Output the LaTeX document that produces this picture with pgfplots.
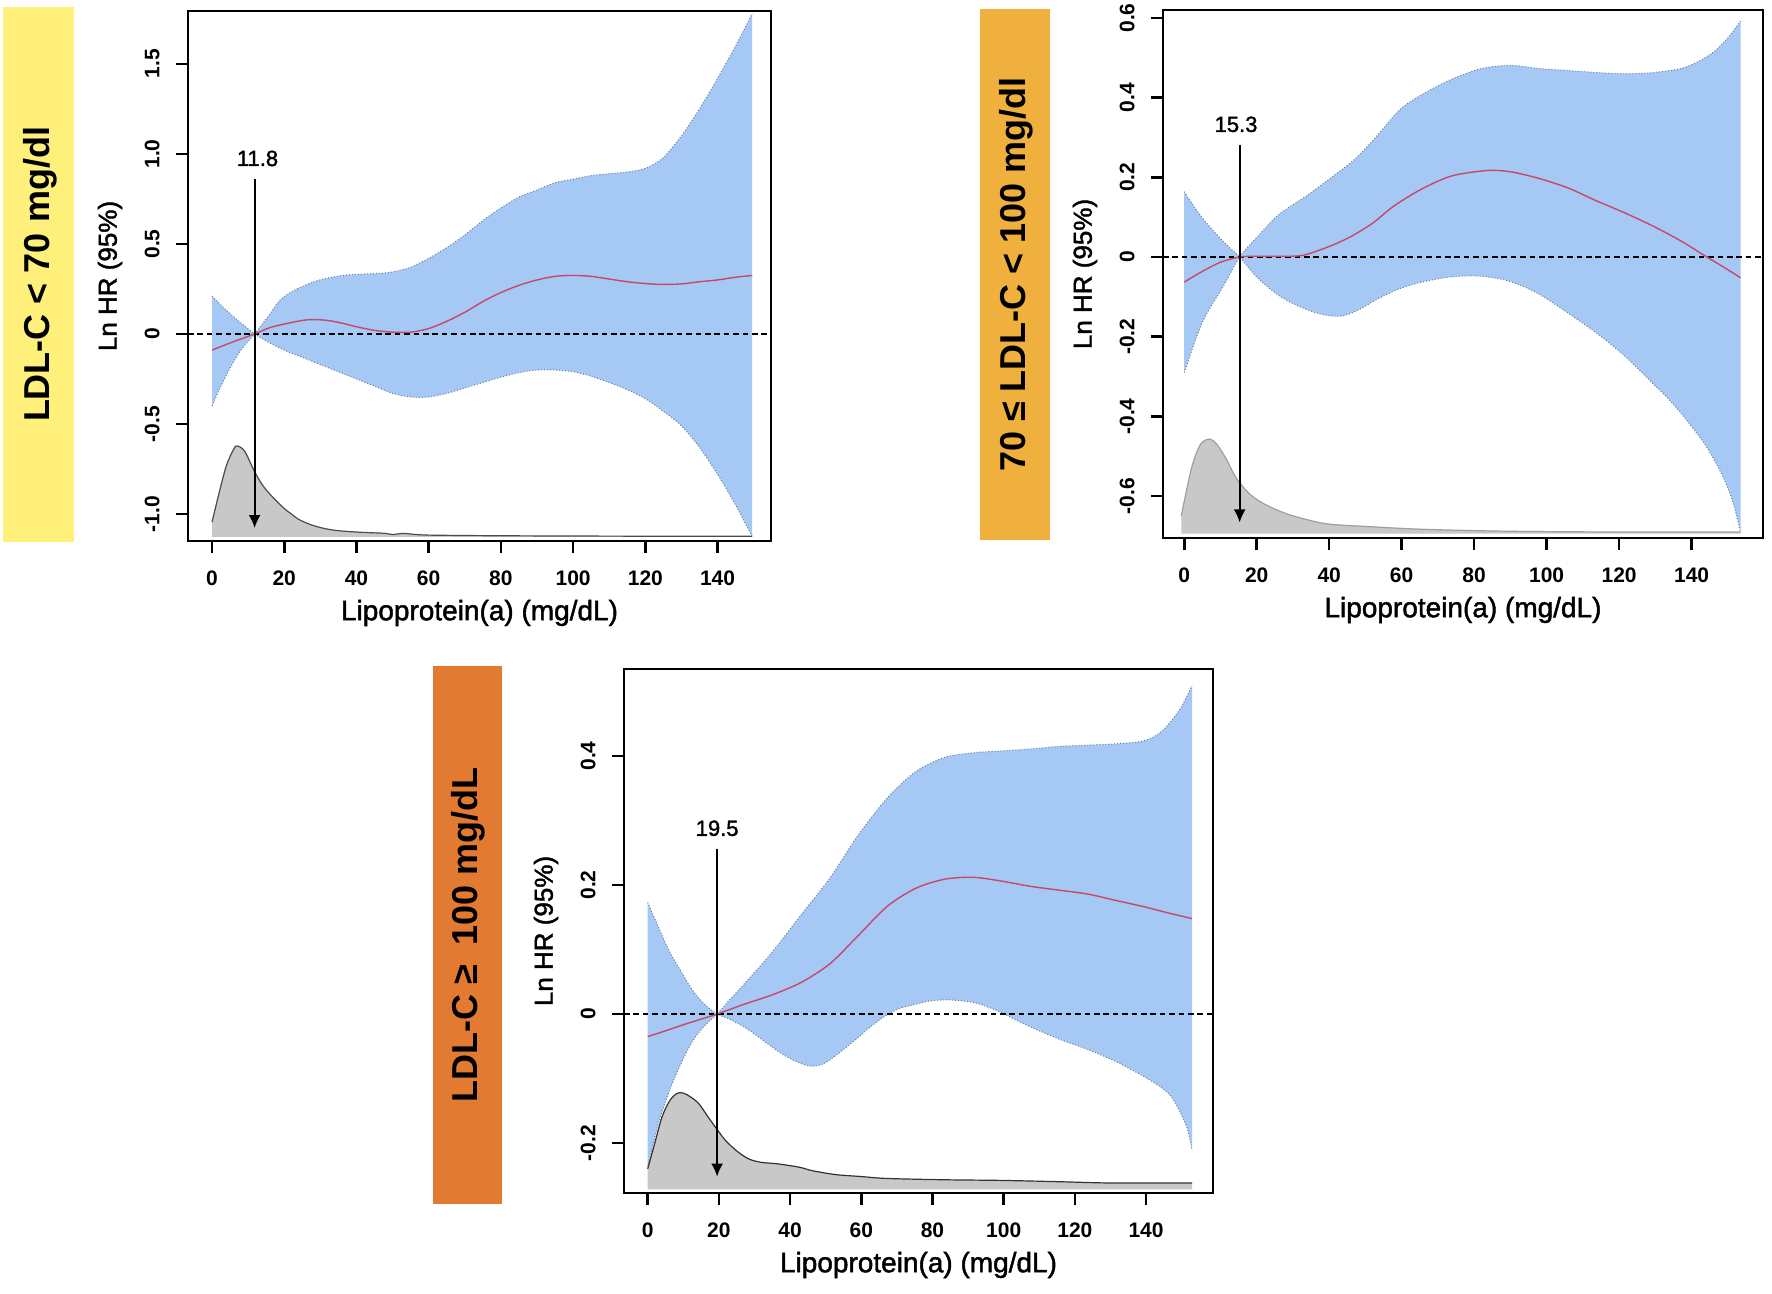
\documentclass[border=0pt]{standalone}
\usepackage{fontspec}
\setmainfont{Liberation Sans}
\newfontface\labface[FakeBold=1.6]{Liberation Sans}
\usepackage{pgfplots}
\usepackage{pgfplotstable}
\pgfplotsset{compat=1.18}
\usepgfplotslibrary{fillbetween}
\usetikzlibrary{arrows.meta}

\definecolor{bandblue}{RGB}{165,200,245}
\definecolor{bandedge}{RGB}{105,125,155}
\definecolor{redline}{RGB}{200,72,104}
\definecolor{dens}{RGB}{200,200,200}
\definecolor{boxyellow}{RGB}{254,240,122}
\definecolor{boxorange}{RGB}{240,176,62}
\definecolor{boxdark}{RGB}{226,122,50}

% ---------- Plot 1 data ----------
\pgfplotstableread{
x y
0 0.21
3 0.15
6 0.095
9 0.045
11.8 0
16 -0.05
20 -0.09
25 -0.13
30 -0.17
35 -0.21
40 -0.25
45 -0.29
50 -0.33
55 -0.35
60 -0.35
65 -0.33
70 -0.30
75 -0.27
80 -0.24
85 -0.215
90 -0.20
95 -0.20
100 -0.21
105 -0.235
110 -0.27
115 -0.31
120 -0.36
125 -0.43
130 -0.51
135 -0.63
140 -0.78
145 -0.95
149.6 -1.126
}\tAone
\pgfplotstableread{
x y
0 -0.40
2 -0.31
5 -0.19
8 -0.09
11.8 0
16 0.11
18.9 0.19
23 0.245
28.2 0.29
32 0.31
37.4 0.328
46.7 0.337
50 0.345
55 0.37
60 0.42
65 0.48
70 0.55
75 0.63
80 0.70
85 0.76
90 0.80
95 0.84
100 0.86
105 0.88
110 0.89
115 0.90
120 0.92
125 0.98
130 1.10
135 1.25
140 1.42
145 1.60
149.6 1.78
}\tBone
\pgfplotstableread{
x y
0 -1.045
2 -0.88
4 -0.73
6 -0.64
6.9 -0.622
9 -0.65
11.8 -0.765
14 -0.84
16.5 -0.90
19.9 -0.968
22 -1.0
24 -1.03
27.4 -1.06
31 -1.08
35 -1.093
41.5 -1.102
47.6 -1.107
50 -1.114
53 -1.108
57 -1.115
62 -1.118
80 -1.121
110 -1.123
149.6 -1.124
}\tDone
\pgfplotstableread{
x y
0 -0.09
5 -0.05
11.8 0
16 0.035
20 0.055
25 0.075
28 0.08
32 0.075
36 0.06
40 0.04
45 0.02
50 0.01
55 0.01
60 0.03
65 0.07
70 0.12
75 0.18
80 0.23
85 0.27
90 0.30
95 0.32
100 0.325
105 0.32
110 0.305
115 0.29
120 0.28
125 0.275
130 0.278
135 0.29
140 0.30
145 0.315
149.6 0.325
}\tEone

% ---------- Plot 2 data ----------
\pgfplotstableread{
x y
0 0.164
4 0.11
8 0.066
12 0.028
15.3 0
20 -0.05
26 -0.096
32.5 -0.127
38.5 -0.145
43.5 -0.148
48 -0.133
53 -0.107
59 -0.081
65.5 -0.063
73.5 -0.05
81.5 -0.048
89.5 -0.06
97.5 -0.091
105.5 -0.138
113.5 -0.189
121.5 -0.248
129.5 -0.319
134 -0.36
138.6 -0.409
144.1 -0.476
148.7 -0.552
151.5 -0.618
153.5 -0.69
}\tAtwo
\pgfplotstableread{
x y
0 -0.29
5 -0.164
11 -0.07
15.3 0
20 0.049
26 0.106
33.5 0.152
40.5 0.199
47 0.245
53 0.302
59.5 0.37
66 0.41
74 0.447
82 0.473
90 0.481
98 0.473
106 0.468
114 0.463
121.5 0.46
129.5 0.463
137 0.473
141.5 0.489
146 0.514
150 0.55
153.5 0.592
}\tBtwo
\pgfplotstableread{
x y
-0.8 -0.65
2 -0.53
4.5 -0.47
7 -0.457
9 -0.47
11.5 -0.505
14.5 -0.557
18.5 -0.598
23 -0.624
29.5 -0.648
39 -0.669
50 -0.676
65.5 -0.683
89 -0.688
120 -0.69
153.5 -0.69
}\tDtwo
\pgfplotstableread{
x y
0 -0.063
5 -0.036
10 -0.013
15.3 0
20 0.002
26 0.002
32.5 0.004
39 0.023
45.5 0.049
52 0.085
58 0.129
66 0.173
74 0.204
83.5 0.217
90 0.214
98 0.197
106 0.173
113.5 0.142
121.5 0.111
129.5 0.077
137.5 0.038
143.5 0.004
149.5 -0.029
153.5 -0.052
}\tEtwo

% ---------- Plot 3 data ----------
\pgfplotstableread{
x y
0 0.173
3 0.135
6.1 0.097
9.5 0.065
12.6 0.037
16 0.015
19.5 0
23 -0.008
27 -0.02
31 -0.035
35.1 -0.052
39 -0.066
43.1 -0.077
46.3 -0.081
49 -0.078
51.2 -0.071
55 -0.055
59.2 -0.036
63 -0.018
67.3 -0.001
71 0.009
75.3 0.015
79 0.02
83.4 0.022
87 0.021
91.4 0.018
95 0.012
99.5 0.002
103 -0.008
107.5 -0.02
115.6 -0.039
123.6 -0.055
131.6 -0.074
139.7 -0.098
144.5 -0.115
147.7 -0.133
151.4 -0.175
152.9 -0.211
}\tAthree
\pgfplotstableread{
x y
0 -0.236
3 -0.17
6.1 -0.119
9.5 -0.075
12.6 -0.042
16 -0.018
19.5 0
23 0.022
27 0.046
35.1 0.097
43.1 0.154
51.2 0.211
59.2 0.278
67.3 0.335
75.3 0.376
83.4 0.398
91.4 0.405
99.5 0.408
107.5 0.411
115.6 0.415
123.6 0.417
131.6 0.419
139.7 0.424
144.5 0.439
149.3 0.471
152.9 0.509
}\tBthree
\pgfplotstableread{
x y
0 -0.240
2 -0.20
4 -0.16
6.1 -0.135
8 -0.124
9.3 -0.122
11 -0.125
14.2 -0.138
17 -0.16
19.5 -0.179
22 -0.197
25.4 -0.214
28.5 -0.225
31.9 -0.23
36 -0.232
39.9 -0.235
43 -0.238
46.3 -0.243
52.8 -0.249
60 -0.252
67.3 -0.255
83.4 -0.257
99.5 -0.258
115.6 -0.26
130 -0.262
152.9 -0.262
}\tDthree
\pgfplotstableread{
x y
0 -0.035
5 -0.026
10.9 -0.015
19.5 0
27 0.015
35.1 0.03
43.1 0.049
51.2 0.078
59.2 0.122
67.3 0.167
75.3 0.195
83.4 0.209
91.4 0.212
99.5 0.206
107.5 0.198
115.6 0.192
123.6 0.186
131.6 0.176
139.7 0.166
146 0.157
152.9 0.148
}\tEthree

\tikzset{ann/.style={font=\labface\fontsize{11}{13}\selectfont},
  tk/.style={black, line width=1.3pt}}
\pgfplotsset{
  hrstyle/.style={
    scale only axis, clip=false,
    axis line style={line width=1.1pt, black},
    xtick style={black, line width=1.3pt},
    ytick style={black, line width=1.3pt},
    tick align=outside, major tick length=6pt,
    xtick pos=bottom, ytick pos=left,
    xtick={0,20,...,140},
    ticklabel style={font=\bfseries\fontsize{10.5}{12}\selectfont, inner sep=0pt},
    /pgf/number format/assume math mode=true,
    xticklabel style={anchor=north},
    xticklabel shift=8.5pt,
    yticklabel style={rotate=90, anchor=south},
    yticklabel shift=8pt,
    xlabel={Lipoprotein(a) (mg/dL)},
    ylabel={Ln HR (95\%)},
    every axis x label/.style={at={(axis description cs:0.5,0)}, yshift=-36pt, anchor=center, font=\labface\fontsize{14}{16}\selectfont},
    every axis y label/.style={at={(axis description cs:0,0.5)}, xshift=-39pt, rotate=90, anchor=center, font=\labface\fontsize{13}{15}\selectfont},
  },
  hidden/.style={draw=none, smooth, forget plot},
  edge/.style={densely dotted, line width=0.5pt, color=bandedge, smooth, forget plot},
  est/.style={redline, line width=0.7pt, smooth, forget plot},
  zero/.style={black, line width=1.3pt, dash pattern=on 2.8pt off 1.9pt, forget plot},
  arr/.style={black, line width=0.9pt, -{Latex[length=6.5pt,width=6pt]}, forget plot},
}

\begin{document}
\begin{tikzpicture}
\path (0,0) rectangle (886pt,647pt);

% group label boxes
\fill[boxyellow] (1.5pt,376pt) rectangle (37pt,643.5pt);
\node[rotate=90, font=\bfseries\fontsize{18}{20}\selectfont] at (20.3pt,509.75pt) {LDL-C < 70 mg/dl};
\fill[boxorange] (490pt,377pt) rectangle (525pt,642.5pt);
\node[rotate=90, font=\bfseries\fontsize{18}{20}\selectfont] at (508pt,509.75pt) {70 ≤ LDL-C < 100 mg/dl};
\fill[boxdark] (216.5pt,45pt) rectangle (251pt,314pt);
\node[rotate=90, font=\bfseries\fontsize{18}{20}\selectfont] at (234pt,179.5pt) {LDL-C ≥~~100 mg/dL};

% ---------------- Plot 1 ----------------
\begin{axis}[hrstyle, at={(94pt,376.5pt)}, anchor=south west,
  width=291.5pt, height=265pt,
  xmin=-6.65, xmax=154.8, ymin=-1.15, ymax=1.794,
  ytick={-1,-0.5,0,0.5,1,1.5}, yticklabels={-1.0,-0.5,0,0.5,1.0,1.5}]
\addplot[hidden, name path=A1] table {\tAone};
\addplot[hidden, name path=B1] table {\tBone};
\addplot[bandblue, forget plot] fill between[of=A1 and B1];
\addplot[edge] table {\tAone};
\addplot[edge] table {\tBone};
\addplot[hidden, name path=D1] table {\tDone};
\addplot[draw=none, name path=base1, forget plot] coordinates {(0,-1.127) (149.6,-1.127)};
\addplot[dens, forget plot] fill between[of=D1 and base1];
\addplot[draw=gray!60!black, line width=0.6pt, smooth, forget plot] table {\tDone};
\addplot[zero] coordinates {(-6.65,0) (154.8,0)};
\addplot[est] table {\tEone};
\addplot[arr] coordinates {(11.8,0.86) (11.8,-1.078)};
\node[ann] at (axis cs:12.6,0.975) {11.8};
\end{axis}
% tick marks of plot 1
\foreach \x in {0,20,...,140} \draw[tk] ({94pt+(\x+6.65)/161.45*291.5pt},376.5pt) -- ++(0pt,-6pt);
\foreach \y in {-1,-0.5,0,0.5,1,1.5} \draw[tk] (94pt,{376.5pt+(\y+1.15)/2.944*265pt}) -- ++(-6pt,0pt);

% ---------------- Plot 2 ----------------
\begin{axis}[hrstyle, at={(581.5pt,378pt)}, anchor=south west,
  width=300pt, height=264pt,
  xmin=-5.85, xmax=159.7, ymin=-0.705, ymax=0.62,
  ytick={-0.6,-0.4,-0.2,0,0.2,0.4,0.6}, yticklabels={-0.6,-0.4,-0.2,0,0.2,0.4,0.6}]
\addplot[hidden, name path=A2] table {\tAtwo};
\addplot[hidden, name path=B2] table {\tBtwo};
\addplot[bandblue, forget plot] fill between[of=A2 and B2];
\addplot[edge] table {\tAtwo};
\addplot[edge] table {\tBtwo};
\addplot[hidden, name path=D2] table {\tDtwo};
\addplot[draw=none, name path=base2, forget plot] coordinates {(-0.8,-0.694) (153.5,-0.694)};
\addplot[dens, forget plot] fill between[of=D2 and base2];
\addplot[draw=gray!75, line width=0.6pt, smooth, forget plot] table {\tDtwo};
\addplot[zero] coordinates {(-5.85,0) (159.7,0)};
\addplot[est] table {\tEtwo};
\addplot[arr] coordinates {(15.3,0.282) (15.3,-0.666)};
\node[ann] at (axis cs:14.3,0.333) {15.3};
\end{axis}
\foreach \x in {0,20,...,140} \draw[tk] ({581.5pt+(\x+5.85)/165.55*300pt},378pt) -- ++(0pt,-6pt);
\foreach \y in {-0.6,-0.4,-0.2,0,0.2,0.4,0.6} \draw[tk] (581.5pt,{378pt+(\y+0.705)/1.325*264pt}) -- ++(-6pt,0pt);

% ---------------- Plot 3 ----------------
\begin{axis}[hrstyle, at={(312pt,50.5pt)}, anchor=south west,
  width=294.5pt, height=262pt,
  xmin=-6.66, xmax=158.8, ymin=-0.2775, ymax=0.535,
  ytick={-0.2,0,0.2,0.4}, yticklabels={-0.2,0,0.2,0.4}]
\addplot[hidden, name path=A3] table {\tAthree};
\addplot[hidden, name path=B3] table {\tBthree};
\addplot[bandblue, forget plot] fill between[of=A3 and B3];
\addplot[edge] table {\tAthree};
\addplot[edge] table {\tBthree};
\addplot[hidden, name path=D3] table {\tDthree};
\addplot[draw=none, name path=base3, forget plot] coordinates {(0,-0.272) (152.9,-0.272)};
\addplot[dens, forget plot] fill between[of=D3 and base3];
\addplot[draw=black!80, line width=0.6pt, smooth, forget plot] table {\tDthree};
\addplot[zero] coordinates {(-6.66,0) (158.8,0)};
\addplot[est] table {\tEthree};
\addplot[arr] coordinates {(19.5,0.256) (19.5,-0.252)};
\node[ann] at (axis cs:19.5,0.288) {19.5};
\end{axis}
\foreach \x in {0,20,...,140} \draw[tk] ({312pt+(\x+6.66)/165.46*294.5pt},50.5pt) -- ++(0pt,-6pt);
\foreach \y in {-0.2,0,0.2,0.4} \draw[tk] (312pt,{50.5pt+(\y+0.2775)/0.8125*262pt}) -- ++(-6pt,0pt);
\end{tikzpicture}
\end{document}
